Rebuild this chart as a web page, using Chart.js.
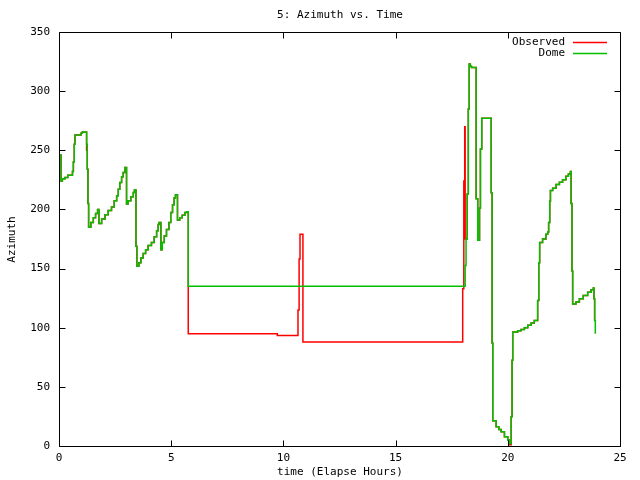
<!DOCTYPE html>
<html>
<head>
<meta charset="utf-8">
<script src="https://cdn.jsdelivr.net/npm/chart.js@4/dist/chart.umd.min.js"></script>
<style>
  html, body { margin: 0; padding: 0; background: #fff; }
  canvas { display: block; }
</style>
</head>
<body>
<canvas id="azChart" width="640" height="480"></canvas>
<script>
// elapsed hours where the azimuth changes level (values held until next time)
var hours = [
  0.00, 0.09, 0.15, 0.27, 0.39, 0.60, 0.64, 0.68, 0.71, 0.98,
  1.04, 1.23, 1.26, 1.29, 1.32, 1.42, 1.53, 1.63, 1.72, 1.78,
  1.90, 2.05, 2.19, 2.34, 2.46, 2.57, 2.64, 2.71, 2.79, 2.86,
  2.94, 3.01, 3.08, 3.20, 3.31, 3.36, 3.43, 3.47, 3.56, 3.65,
  3.75, 3.86, 3.97, 4.12, 4.24, 4.35, 4.42, 4.46, 4.54, 4.60,
  4.69, 4.79, 4.90, 4.98, 5.06, 5.13, 5.19, 5.28, 5.38, 5.49,
  5.61, 5.69, 5.76, 9.73, 10.65, 10.70, 10.74, 10.87, 17.99, 18.04,
  18.08, 18.10, 18.14, 18.19, 18.24, 18.28, 18.33, 18.38, 18.59, 18.66,
  18.74, 18.78, 18.84, 19.26, 19.30, 19.33, 19.48, 19.60, 19.70, 19.85,
  20.00, 20.07, 20.15, 20.19, 20.22, 20.44, 20.59, 20.74, 20.89, 21.04,
  21.18, 21.33, 21.38, 21.42, 21.55, 21.70, 21.78, 21.82, 21.87, 21.90,
  22.00, 22.15, 22.30, 22.44, 22.59, 22.70, 22.79, 22.82, 22.86, 22.89,
  23.04, 23.19, 23.36, 23.56, 23.71, 23.81, 23.84, 23.87, 23.90
];
var observed = [
  246, 224, 226, 227, 229, 232, 240, 255, 263, 264.5,
  265.5, 250, 234, 205, 185, 189, 193, 196.5, 200, 188,
  192, 195.6, 199, 202, 207.4, 211.6, 217, 222.8, 227.6, 231.3,
  235.5, 204.6, 207.4, 210.8, 214.4, 216.4, 168.9, 152, 155, 159,
  162.7, 166, 169.4, 172, 177, 182, 187.2, 189, 166, 172,
  177.5, 183, 189, 197.5, 204, 209.7, 212.5, 191, 193, 195,
  197.5, 198, 95, 93.5, 115, 158, 179, 88, 133, 224,
  270, 175, 175, 213, 285, 323, 321, 320, 209, 174,
  201, 251, 277, 214, 87, 21.4, 16.3, 14, 12, 7.9,
  5, 1, 24.7, 72.5, 96.4, 97.5, 98.4, 100, 102, 104,
  106, 123, 155, 172, 175, 179, 181, 189, 207, 216,
  218, 221, 223, 225, 228, 230, 232, 205, 148, 120,
  121.7, 124.5, 127.3, 130, 132, 133.5, 124.5, 106, null
];
var dome = [
  246, 224, 226, 227, 229, 232, 240, 255, 263, 264.5,
  265.5, 255, 234, 205, 185, 189, 193, 196.5, 200, 188,
  192, 195.6, 199, 202, 207.4, 211.6, 217, 222.8, 227.6, 231.3,
  235.5, 204.6, 207.4, 210.8, 214.4, 216.4, 168.9, 152, 155, 159,
  162.7, 166, 169.4, 172, 177, 182, 187.2, 189, 166, 172,
  177.5, 183, 189, 197.5, 204, 209.7, 212.5, 191, 193, 195,
  197.5, 198, 135, 135, 135, 135, 135, 135, 135, 135,
  135, 152.6, 175, 213, 285, 323, 321, 320, 209, 174,
  201, 251, 277, 214, 87, 21.4, 16.3, 14, 12, 7.9,
  5, 2.2, 24.7, 72.5, 96.4, 97.5, 98.4, 100, 102, 104,
  106, 123, 155, 172, 175, 179, 181, 189, 207, 216,
  218, 221, 223, 225, 228, 230, 232, 205, 148, 120,
  121.7, 124.5, 127.3, 130, 132, 133.5, 124.5, 106, 95
];
var seriesNames = ['Observed', 'Dome'];
var seriesColors = ['#ff0000', '#00c000'];

var FONT = '11px "DejaVu Sans Mono", monospace';

function points(vals) {
  return hours.map(function (h, i) { return { x: h, y: vals[i] }; });
}

// gnuplot style frame: box, inward ticks on all sides, title, legend, axis labels
var gnuplotFrame = {
  id: 'gnuplotFrame',
  afterDraw: function (chart) {
    var c = chart.ctx, a = chart.chartArea;
    var xs = chart.scales.x, ys = chart.scales.y;
    var L = Math.round(a.left) + 0.5, R = Math.round(a.right) + 0.5;
    var T = Math.round(a.top) + 0.5, B = Math.round(a.bottom) + 0.5;
    c.save();
    c.strokeStyle = '#000';
    c.lineWidth = 1;
    c.beginPath();
    c.rect(L, T, R - L, B - T);
    xs.ticks.forEach(function (t) {
      var px = Math.round(xs.getPixelForValue(t.value)) + 0.5;
      c.moveTo(px, B); c.lineTo(px, B - 6);
      c.moveTo(px, T); c.lineTo(px, T + 6);
    });
    ys.ticks.forEach(function (t) {
      var py = Math.round(ys.getPixelForValue(t.value)) + 0.5;
      c.moveTo(L, py); c.lineTo(L + 6, py);
      c.moveTo(R, py); c.lineTo(R - 6, py);
    });
    c.stroke();

    c.fillStyle = '#000';
    c.font = FONT;
    c.textAlign = 'center';
    c.textBaseline = 'middle';
    c.fillText('5: Azimuth vs. Time', (L + R) / 2, 15);
    c.fillText('time (Elapse Hours)', (L + R) / 2, 472);

    c.save();
    c.translate(12, (T + B) / 2);
    c.rotate(-Math.PI / 2);
    c.fillText('Azimuth', 0, 0);
    c.restore();

    c.textAlign = 'right';
    seriesNames.forEach(function (name, i) {
      var y = 42 + i * 11;
      c.fillStyle = '#000';
      c.fillText(name, 565, y);
      c.strokeStyle = seriesColors[i];
      c.lineWidth = 1.5;
      c.beginPath();
      c.moveTo(573, y + 0.5);
      c.lineTo(607, y + 0.5);
      c.stroke();
    });
    c.restore();
  }
};

new Chart(document.getElementById('azChart').getContext('2d'), {
  type: 'line',
  data: {
    datasets: [{
      label: seriesNames[0],
      data: points(observed),
      borderColor: seriesColors[0],
      borderWidth: 1.5,
      pointRadius: 0,
      stepped: true,
      fill: false,
      spanGaps: false,
      order: 1
    }, {
      label: seriesNames[1],
      data: points(dome),
      borderColor: seriesColors[1],
      borderWidth: 1.5,
      pointRadius: 0,
      stepped: true,
      fill: false,
      order: 0
    }]
  },
  options: {
    responsive: false,
    animation: false,
    devicePixelRatio: 1,
    layout: { padding: { left: 0, right: 20, top: 32, bottom: 0 } },
    plugins: {
      legend: { display: false },
      title: { display: false },
      tooltip: { enabled: false }
    },
    scales: {
      x: {
        type: 'linear',
        min: 0,
        max: 25,
        ticks: { stepSize: 5, color: '#000', font: { family: 'DejaVu Sans Mono', size: 11 }, padding: 6, maxRotation: 0 },
        grid: { display: false, drawTicks: false },
        border: { display: false },
        afterFit: function (s) { s.height = 34; }
      },
      y: {
        min: 0,
        max: 350,
        ticks: { stepSize: 50, color: '#000', font: { family: 'DejaVu Sans Mono', size: 11 }, padding: 9 },
        grid: { display: false, drawTicks: false },
        border: { display: false },
        afterFit: function (s) { s.width = 59; }
      }
    }
  },
  plugins: [gnuplotFrame]
});
</script>
</body>
</html>
